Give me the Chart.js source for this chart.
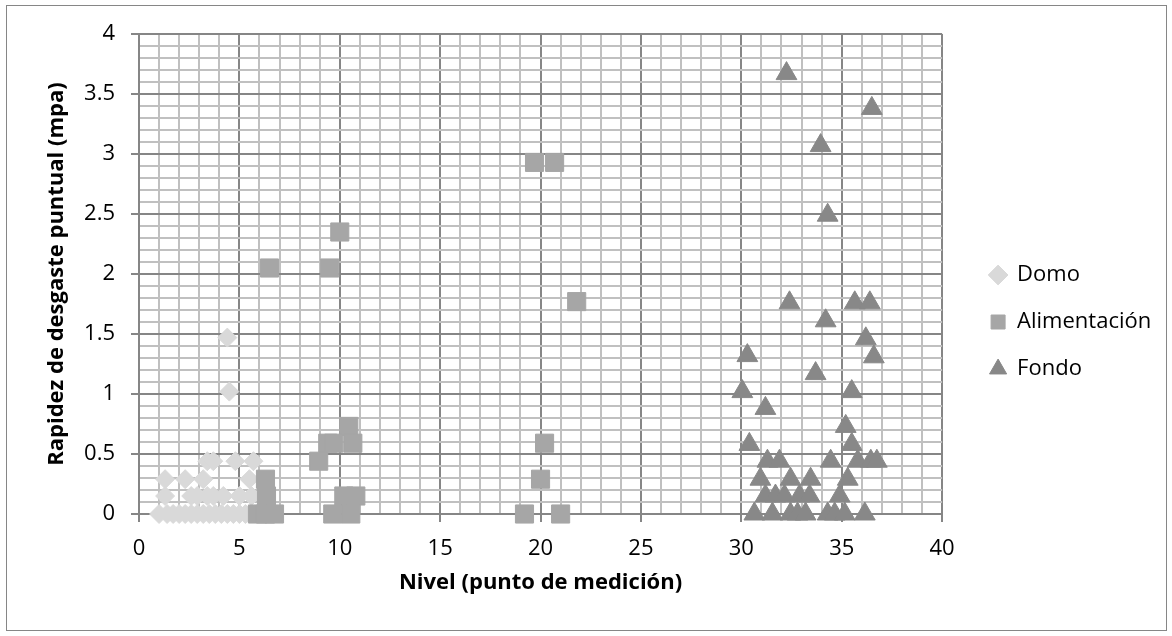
<!DOCTYPE html>
<html>
<head>
<meta charset="utf-8">
<script src="https://cdn.jsdelivr.net/npm/chart.js@4.4.1/dist/chart.umd.min.js"></script>
<style>
    html, body { margin: 0; padding: 0; background: #fff; }
    #wrap { position: relative; width: 1172px; height: 636px; }
    #frame { position: absolute; left: 6px; top: 5px; width: 1159px; height: 624px; border: 1px solid #868686; }
    #chart { position: absolute; left: 0; top: 0; }
</style>
</head>
<body>
<div id="wrap">
    <div id="frame"></div>
    <canvas id="chart" width="1172" height="636"></canvas>
</div>
<script>
/* ── Data ─────────────────────────────────────────────── */
const seriesNames = ['Domo', 'Alimentación', 'Fondo'];

const domoX = [1.0, 1.4, 1.7, 2.0, 2.3, 2.6, 2.9, 3.2, 3.5, 3.8, 4.1, 4.4, 4.7, 5.0, 5.3,
               1.3, 2.6, 2.9, 3.4, 3.7, 4.2, 5.0, 5.6,
               1.3, 2.3, 3.2, 5.5,
               3.4, 3.7, 4.8, 5.7,
               4.5, 4.4];
const domoY = [0, 0, 0, 0, 0, 0, 0, 0, 0, 0, 0, 0, 0, 0, 0,
               0.15, 0.15, 0.15, 0.15, 0.15, 0.15, 0.15, 0.15,
               0.29, 0.29, 0.29, 0.29,
               0.44, 0.44, 0.44, 0.44,
               1.02, 1.47];

const alimX = [6.5, 9.5, 10.0, 19.7, 20.7, 21.8, 20.2, 20.0, 19.2, 21.0,
               10.45, 9.4, 9.7, 10.65, 8.95, 10.2, 10.8, 9.65, 10.55,
               6.3, 6.35, 5.9, 6.3, 6.75];
const alimY = [2.05, 2.05, 2.35, 2.93, 2.93, 1.77, 0.59, 0.29, 0, 0,
               0.73, 0.59, 0.59, 0.59, 0.44, 0.15, 0.15, 0, 0,
               0.29, 0.15, 0, 0, 0];

const fondoX = [32.25, 36.5, 33.95, 34.3, 32.4, 35.65, 36.4, 34.2, 36.2, 36.6,
                30.3, 33.7, 30.05, 35.5, 31.2, 35.2, 30.4, 35.5,
                31.3, 31.9, 34.45, 35.8, 36.45, 36.75,
                30.95, 32.45, 33.45, 35.3,
                31.2, 31.7, 32.15, 32.9, 33.4, 34.9,
                30.65, 31.55, 32.45, 32.8, 33.2, 34.3, 34.65, 35.15, 36.15];
const fondoY = [3.67, 3.38, 3.07, 2.49, 1.76, 1.76, 1.76, 1.61, 1.46, 1.31,
                1.32, 1.17, 1.02, 1.02, 0.88, 0.73, 0.58, 0.58,
                0.44, 0.44, 0.44, 0.44, 0.44, 0.44,
                0.29, 0.29, 0.29, 0.29,
                0.15, 0.15, 0.15, 0.15, 0.15, 0.15,
                0, 0, 0, 0, 0, 0, 0, 0, 0];

const xTitle = 'Nivel (punto de medición)';
const yTitle = 'Rapidez de desgaste puntual (mpa)';

/* ── Helpers ──────────────────────────────────────────── */
const toPoints = (xs, ys) => xs.map((x, i) => ({ x: x, y: ys[i] }));
const FONT = "'Open Sans', sans-serif";
const MAJOR = '#868686';
const MINOR = '#c0c0c0';

const isMajorX = v => Math.round(v) % 5 === 0;
const isMajorY = v => Math.round(v * 10) % 5 === 0;

// legend geometry: keep plot right edge at 939 and legend items at 987
const legendFont = 22;
const mctx = document.createElement('canvas').getContext('2d');
mctx.font = legendFont + 'px ' + FONT;
const textW = Math.max.apply(null, seriesNames.map(n => mctx.measureText(n).width));
const legendW = 25 + 16 + legendFont / 2 + textW + 10;
const padRight = Math.max(0, 1172 - 962 - legendW);

const ds = (label, data, style, color, radius, order) => ({
    label: label,
    data: data,
    pointStyle: style,
    pointRadius: radius,
    pointHoverRadius: radius,
    backgroundColor: color,
    borderColor: color,
    borderWidth: 1,
    showLine: false,
    clip: false,
    order: order
});

new Chart(document.getElementById('chart'), {
    type: 'scatter',
    data: {
        datasets: [
            ds(seriesNames[0], toPoints(domoX, domoY), 'rectRot', '#d9d9d9', 9.5, 3),
            ds(seriesNames[1], toPoints(alimX, alimY), 'rect', '#a6a6a6', 12.8, 2),
            ds(seriesNames[2], toPoints(fondoX, fondoY), 'triangle', '#888888', 12, 1)
        ]
    },
    options: {
        responsive: false,
        animation: false,
        events: [],
        layout: { padding: { left: 0, top: 34, right: padRight, bottom: 26 } },
        plugins: {
            tooltip: { enabled: false },
            legend: {
                position: 'right',
                align: 'center',
                labels: {
                    usePointStyle: true,
                    boxWidth: 16,
                    boxHeight: 14,
                    padding: 25,
                    color: '#000',
                    font: { family: FONT, size: legendFont },
                    sort: (a, b) => a.datasetIndex - b.datasetIndex
                }
            }
        },
        scales: {
            x: {
                type: 'linear',
                min: 0,
                max: 40,
                afterFit: s => { s.height = 96; },
                border: { color: MAJOR, width: 2 },
                grid: {
                    lineWidth: 2,
                    color: c => (c.tick && isMajorX(c.tick.value)) ? MAJOR : MINOR,
                    tickLength: 8,
                    tickWidth: 2,
                    tickColor: c => (c.tick && isMajorX(c.tick.value)) ? MAJOR : 'rgba(0,0,0,0)'
                },
                ticks: {
                    stepSize: 1,
                    autoSkip: false,
                    maxRotation: 0,
                    minRotation: 0,
                    padding: 14,
                    color: '#000',
                    font: { family: FONT, size: 22 },
                    callback: v => isMajorX(v) ? String(Math.round(v)) : ''
                },
                title: {
                    display: true,
                    text: xTitle,
                    color: '#000',
                    padding: { top: 0, bottom: 14 },
                    font: { family: FONT, size: 22, weight: 'bold' }
                }
            },
            y: {
                type: 'linear',
                min: 0,
                max: 4,
                afterFit: s => { s.width = 139; },
                border: { color: MAJOR, width: 2 },
                grid: {
                    lineWidth: 2,
                    color: c => (c.tick && isMajorY(c.tick.value)) ? MAJOR : MINOR,
                    tickLength: 8,
                    tickWidth: 2,
                    tickColor: c => (c.tick && isMajorY(c.tick.value)) ? MAJOR : 'rgba(0,0,0,0)'
                },
                ticks: {
                    stepSize: 0.1,
                    autoSkip: false,
                    padding: 16,
                    color: '#000',
                    font: { family: FONT, size: 22 },
                    callback: v => isMajorY(v) ? String(Math.round(v * 10) / 10) : ''
                },
                title: {
                    display: true,
                    text: yTitle,
                    color: '#000',
                    padding: { top: 44, bottom: 0 },
                    font: { family: FONT, size: 22, weight: 'bold' }
                }
            },
            // empty spacer between plot and legend
            gap: {
                type: 'linear',
                position: 'right',
                display: true,
                afterFit: s => { s.width = 23; },
                border: { display: false },
                grid: { display: false, drawTicks: false },
                ticks: { display: false }
            }
        }
    }
});
</script>
</body>
</html>
